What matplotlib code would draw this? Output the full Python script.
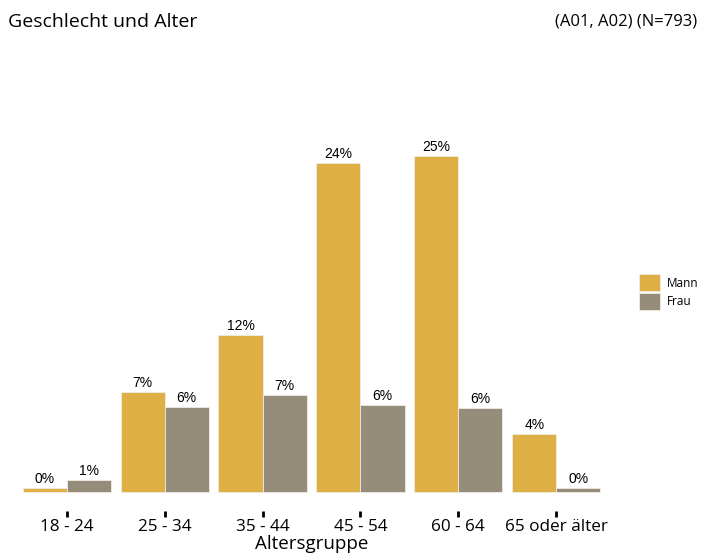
import numpy as np
import matplotlib
matplotlib.use("Agg")
import matplotlib.pyplot as plt

# Data (percent of N=793)
altersgruppen = ["18 - 24", "25 - 34", "35 - 44", "45 - 54", "60 - 64", "65 oder älter"]
mann = [0.3, 7.4, 11.6, 24.3, 24.8, 4.3]
frau = [0.9, 6.3, 7.2, 6.4, 6.2, 0.3]
mann_labels = ["0%", "7%", "12%", "24%", "25%", "4%"]
frau_labels = ["1%", "6%", "7%", "6%", "6%", "0%"]

col_mann = "#DEAF45"
col_frau = "#968C7A"

plt.rcParams['font.family'] = ['Liberation Sans', 'DejaVu Sans']
ui_font = ['Open Sans', 'DejaVu Sans']

W, H = 705, 555
fig = plt.figure(figsize=(W / 100, H / 100), dpi=100)

# axes box in pixels: left 8, right 615, top 100, bottom 511
ax = fig.add_axes([8 / W, (H - 511) / H, (615 - 8) / W, (511 - 100) / H])

x = np.arange(len(altersgruppen))
bw = 0.45
b1 = ax.bar(x - bw / 2, mann, bw, color=col_mann, edgecolor="#f0ece4", linewidth=0.6, label="Mann")
b2 = ax.bar(x + bw / 2, frau, bw, color=col_frau, edgecolor="#f0ece4", linewidth=0.6, label="Frau")

for rect, lab in zip(b1, mann_labels):
    ax.annotate(lab, (rect.get_x() + rect.get_width() / 2, rect.get_height()),
                xytext=(0, 1.5), textcoords="offset points", ha="center", va="bottom", fontsize=10)
for rect, lab in zip(b2, frau_labels):
    ax.annotate(lab, (rect.get_x() + rect.get_width() / 2, rect.get_height()),
                xytext=(0, 1.5), textcoords="offset points", ha="center", va="bottom", fontsize=10)

ax.set_xlim(-0.6, 5.6)
ax.set_ylim(-(511 - 492) / 13.53, (492 - 100) / 13.53)
ax.set_xticks(x)
ax.set_xticklabels(altersgruppen, fontsize=12.3, family=ui_font)
ax.tick_params(axis="x", length=4.5, width=2, color="black", pad=1.5)
ax.set_yticks([])
for s in ax.spines.values():
    s.set_visible(False)
ax.set_xlabel("Altersgruppe", fontsize=13.5, labelpad=0, family=ui_font)

fig.text(8 / W, 1 - 22 / H, "Geschlecht und Alter", fontsize=14, va="center", ha="left",
         family=ui_font)
fig.text(697 / W, 1 - 22 / H, "(A01, A02) (N=793)", fontsize=12, va="center", ha="right",
         family=ui_font)

fig.legend(handles=[b1, b2], labels=["Mann", "Frau"], loc="center left",
           bbox_to_anchor=(628 / W, 1 - 292 / H), frameon=False,
           handlelength=1.8, handleheight=1.8, handletextpad=0.6, labelspacing=0.15,
           prop={'family': ui_font, 'size': 8.5})

fig.savefig("out.png", dpi=100)
